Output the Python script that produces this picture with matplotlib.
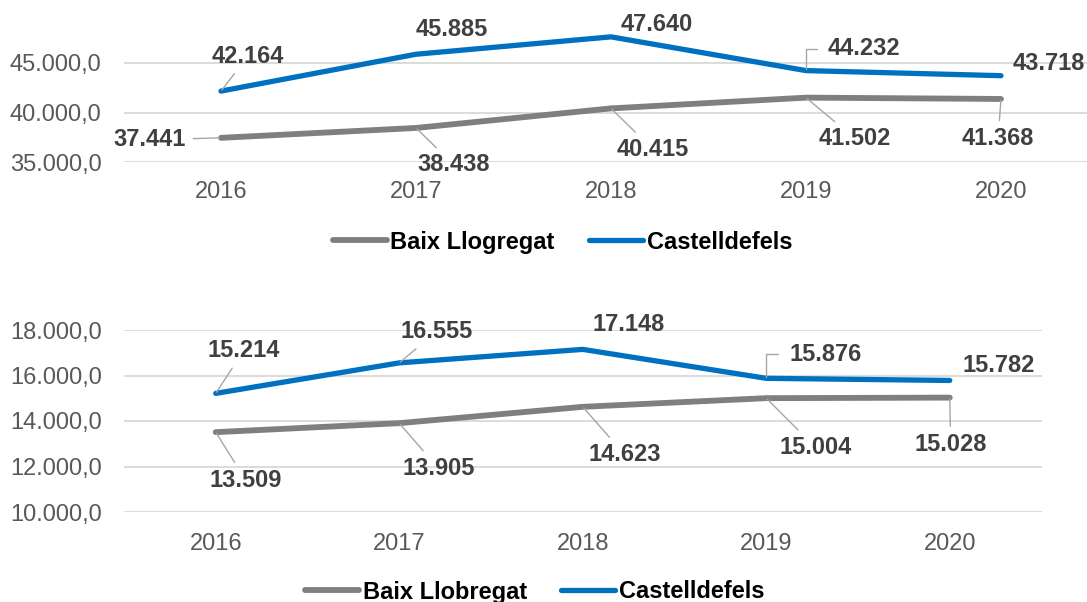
import matplotlib
matplotlib.use("Agg")
import matplotlib.pyplot as plt

plt.rcParams['font.family'] = ['Liberation Sans', 'DejaVu Sans']

years = ["2016", "2017", "2018", "2019", "2020"]

# top chart
top_baix = [37441, 38438, 40415, 41502, 41368]
top_castell = [42164, 45885, 47640, 44232, 43718]
top_legend = ["Baix Llogregat", "Castelldefels"]

# bottom chart
bot_baix = [13509, 13905, 14623, 15004, 15028]
bot_castell = [15214, 16555, 17148, 15876, 15782]
bot_legend = ["Baix Llobregat", "Castelldefels"]

GRAY = "#7f7f7f"
BLUE = "#0070c0"
LABEL = "#404040"
TICK = "#595959"
LEADER = "#a6a6a6"

# label offsets in pixels (dx, dy) and leader style
top_castell_off = [(27, 37, "line"), (36, 27, None), (46, 14, None), (58, 24, "elbow"), (48, 14, None)]
top_baix_off = [(-71, 0, "line"), (38, -35, "line"), (42, -39, "line"), (49, -39, "line"), (-3, -38, "line")]
bot_castell_off = [(28, 45, "line"), (37, 33, "line"), (46, 27, None), (59, 26, "elbow"), (49, 17, None)]
bot_baix_off = [(30, -46, "line"), (39, -43, "line"), (42, -46, "line"), (49, -47, "line"), (1, -45, "line")]


def fmt_es(v):
    s = f"{v:,.1f}"
    return s.replace(",", "X").replace(".", ",").replace("X", ".")


def fmt_int(v):
    return f"{v:,}".replace(",", ".")


def label_points(ax, vals, offsets):
    for i, (v, (dx, dy, style)) in enumerate(zip(vals, offsets)):
        kw = dict(xy=(i, v), xytext=(dx, dy - 2), textcoords="offset pixels",
                  ha="center", va="center", fontsize=17, fontweight="bold",
                  color=LABEL, annotation_clip=False)
        if style == "line":
            kw["arrowprops"] = dict(arrowstyle="-", color=LEADER, lw=1.0,
                                    shrinkA=3, shrinkB=1)
        elif style == "elbow":
            kw["arrowprops"] = dict(arrowstyle="-", color=LEADER, lw=1.0,
                                    shrinkA=6, shrinkB=1, relpos=(0, 0.5),
                                    connectionstyle="angle,angleA=0,angleB=90,rad=0")
        ax.annotate(fmt_int(v), **kw)


def draw(ax, baix, castell, ylim, yticks, xpad, names, leg_xy, fig):
    x = range(len(years))
    l1, = ax.plot(x, baix, color=GRAY, lw=4.2, solid_capstyle="round",
                  solid_joinstyle="round", clip_on=False)
    l2, = ax.plot(x, castell, color=BLUE, lw=3.8, solid_capstyle="round",
                  solid_joinstyle="round", clip_on=False)
    ax.set_xlim(-0.5, len(years) - 0.5)
    ax.set_ylim(*ylim)
    ax.set_xticks(list(x))
    ax.set_xticklabels(years)
    ax.set_yticks(yticks)
    ax.set_yticklabels([fmt_es(t) for t in yticks])
    ax.grid(axis="y", color="#d9d9d9", lw=1.3)
    ax.set_axisbelow(True)
    for sp in ax.spines.values():
        sp.set_visible(False)
    ax.tick_params(axis="both", length=0, labelsize=17, labelcolor=TICK)
    ax.tick_params(axis="y", pad=15.8)
    ax.tick_params(axis="x", pad=xpad)
    fig.legend([l1, l2], names, loc="center", bbox_to_anchor=leg_xy, ncol=2,
               frameon=False, handlelength=2.3, handletextpad=0.15,
               columnspacing=1.45, prop=dict(size=17, weight="bold"))
    return l1, l2


fig = plt.figure(figsize=(10.87, 6.02), dpi=100)
W, H = 1087, 602

ax1 = fig.add_axes([123.5 / W, (H - 162) / H, 975 / W, 162 / H])
draw(ax1, top_baix, top_castell, (35000, 35000 + 162 / 0.0099),
     [35000, 40000, 45000], 14, top_legend, (562.5 / W, 1 - 242 / H), fig)
label_points(ax1, top_castell, top_castell_off)
label_points(ax1, top_baix, top_baix_off)

ax2 = fig.add_axes([124 / W, 90 / H, 917.5 / W, 182 / H])
draw(ax2, bot_baix, bot_castell, (10000, 18000),
     [10000, 12000, 14000, 16000, 18000], 15.4, bot_legend, (534.5 / W, 1 - 592 / H), fig)
label_points(ax2, bot_castell, bot_castell_off)
label_points(ax2, bot_baix, bot_baix_off)

fig.savefig("out.png", dpi=100)
